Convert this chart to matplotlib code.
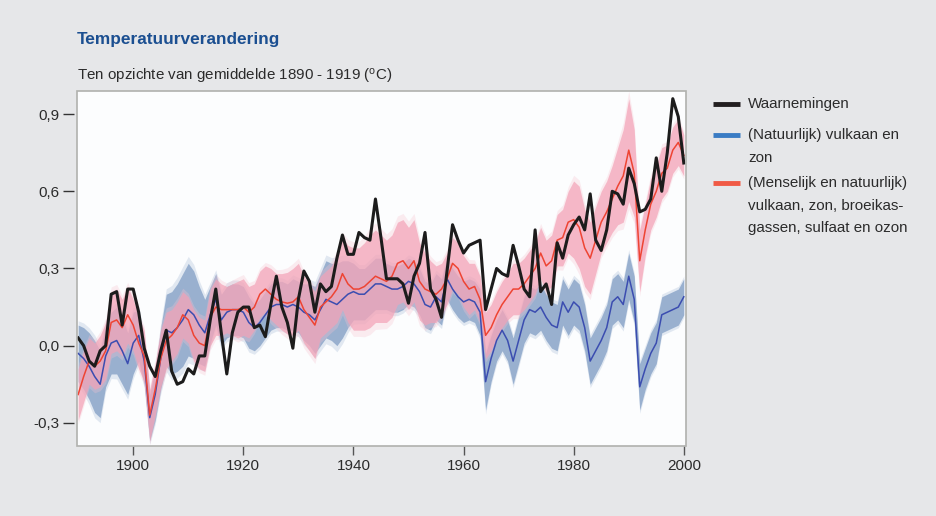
import matplotlib
matplotlib.use("Agg")
import matplotlib.pyplot as plt
import numpy as np
from matplotlib.lines import Line2D
from matplotlib.patches import Rectangle

plt.rcParams['font.family'] = ['Liberation Sans', 'DejaVu Sans']
plt.rcParams['mathtext.fontset'] = 'custom'
plt.rcParams['mathtext.rm'] = 'Liberation Sans'

jaren = np.arange(1890, 2001)

# waarnemingen (zwart)
waarnemingen = [
    0.03, 0.00, -0.06, -0.08, -0.02, 0.00, 0.20, 0.21, 0.08, 0.22,
    0.22, 0.13, -0.01, -0.08, -0.12, -0.02, 0.06, -0.10, -0.15, -0.14,
    -0.09, -0.11, -0.04, -0.04, 0.10, 0.22, 0.05, -0.11, 0.05, 0.13,
    0.15, 0.15, 0.07, 0.08, 0.035, 0.16, 0.27, 0.15, 0.09, -0.01,
    0.18, 0.29, 0.25, 0.13, 0.24, 0.21, 0.23, 0.34, 0.43, 0.355,
    0.355, 0.44, 0.42, 0.41, 0.57, 0.42, 0.26, 0.26, 0.26, 0.24,
    0.165, 0.27, 0.32, 0.44, 0.22, 0.18, 0.11, 0.29, 0.47, 0.41,
    0.36, 0.39, 0.40, 0.41, 0.14, 0.22, 0.30, 0.28, 0.27, 0.39,
    0.31, 0.22, 0.19, 0.45, 0.21, 0.24, 0.16, 0.40, 0.34, 0.43,
    0.47, 0.50, 0.45, 0.59, 0.41, 0.37, 0.45, 0.60, 0.59, 0.55,
    0.69, 0.63, 0.52, 0.53, 0.57, 0.73, 0.60, 0.75, 0.96, 0.89,
    0.71,
]

# model: menselijk + natuurlijk (rood)
mens_natuur = [
    -0.19, -0.12, -0.06, -0.08, -0.06, -0.02, 0.09, 0.10, 0.07, 0.12,
    0.08, 0.01, -0.04, -0.27, -0.17, -0.05, 0.02, 0.04, 0.07, 0.12,
    0.10, 0.04, 0.01, 0.00, 0.11, 0.15, 0.14, 0.14, 0.14, 0.14,
    0.15, 0.13, 0.15, 0.20, 0.22, 0.20, 0.18, 0.17, 0.165, 0.17,
    0.19, 0.14, 0.11, 0.08, 0.15, 0.17, 0.19, 0.22, 0.28, 0.24,
    0.22, 0.22, 0.23, 0.25, 0.27, 0.26, 0.25, 0.27, 0.32, 0.33,
    0.30, 0.33, 0.25, 0.22, 0.21, 0.20, 0.22, 0.26, 0.32, 0.30,
    0.25, 0.22, 0.23, 0.18, 0.04, 0.07, 0.12, 0.16, 0.19, 0.22,
    0.22, 0.24, 0.27, 0.30, 0.36, 0.31, 0.33, 0.41, 0.42, 0.48,
    0.49, 0.46, 0.38, 0.34, 0.41, 0.48, 0.52, 0.57, 0.62, 0.66,
    0.76, 0.67, 0.33, 0.45, 0.55, 0.60, 0.67, 0.69, 0.76, 0.79,
    0.74,
]
mens_natuur_spreiding = [
    0.10, 0.10, 0.09, 0.09, 0.10, 0.11, 0.12, 0.12, 0.11, 0.11,
    0.10, 0.10, 0.10, 0.10, 0.10, 0.11, 0.11, 0.10, 0.10, 0.09,
    0.09, 0.10, 0.10, 0.10, 0.11, 0.11, 0.10, 0.09, 0.10, 0.11,
    0.11, 0.10, 0.09, 0.09, 0.09, 0.10, 0.10, 0.11, 0.12, 0.13,
    0.13, 0.13, 0.13, 0.13, 0.12, 0.12, 0.12, 0.13, 0.14, 0.15,
    0.16, 0.16, 0.17, 0.18, 0.18, 0.17, 0.16, 0.16, 0.16, 0.16,
    0.16, 0.16, 0.15, 0.14, 0.12, 0.11, 0.10, 0.10, 0.10, 0.10,
    0.10, 0.10, 0.09, 0.09, 0.09, 0.09, 0.09, 0.09, 0.09, 0.10,
    0.10, 0.10, 0.10, 0.10, 0.10, 0.10, 0.10, 0.10, 0.11, 0.12,
    0.15, 0.16, 0.15, 0.14, 0.13, 0.12, 0.12, 0.13, 0.15, 0.18,
    0.20, 0.17, 0.12, 0.10, 0.10, 0.10, 0.10, 0.09, 0.09, 0.09,
    0.08,
]

# model: alleen natuurlijk (blauw)
natuur = [
    -0.03, -0.05, -0.08, -0.12, -0.15, -0.04, 0.01, 0.02, -0.02, -0.07,
    0.01, 0.04, -0.06, -0.28, -0.19, -0.05, 0.06, 0.05, 0.07, 0.10,
    0.14, 0.12, 0.08, 0.05, 0.12, 0.18, 0.10, 0.13, 0.14, 0.14,
    0.13, 0.09, 0.07, 0.09, 0.12, 0.15, 0.16, 0.16, 0.15, 0.16,
    0.15, 0.13, 0.12, 0.10, 0.14, 0.18, 0.17, 0.16, 0.18, 0.20,
    0.21, 0.20, 0.20, 0.22, 0.24, 0.24, 0.23, 0.22, 0.22, 0.23,
    0.25, 0.24, 0.21, 0.16, 0.15, 0.19, 0.17, 0.26, 0.22, 0.19,
    0.17, 0.18, 0.17, 0.13, -0.14, -0.05, 0.02, 0.06, 0.02, -0.06,
    0.02, 0.10, 0.14, 0.13, 0.15, 0.11, 0.08, 0.07, 0.17, 0.13,
    0.17, 0.15, 0.07, -0.06, -0.02, 0.02, 0.07, 0.17, 0.19, 0.16,
    0.27, 0.18, -0.16, -0.09, -0.03, 0.01, 0.12, 0.13, 0.14, 0.15,
    0.19,
]
natuur_spreiding = [
    0.11, 0.12, 0.13, 0.14, 0.13, 0.12, 0.12, 0.13, 0.13, 0.12,
    0.12, 0.10, 0.09, 0.09, 0.10, 0.12, 0.14, 0.16, 0.17, 0.18,
    0.18, 0.17, 0.15, 0.13, 0.11, 0.10, 0.10, 0.10, 0.10, 0.10,
    0.10, 0.10, 0.09, 0.09, 0.09, 0.09, 0.09, 0.09, 0.09, 0.10,
    0.10, 0.11, 0.12, 0.13, 0.14, 0.15, 0.15, 0.16, 0.15, 0.13,
    0.11, 0.10, 0.10, 0.10, 0.10, 0.10, 0.09, 0.09, 0.09, 0.09,
    0.09, 0.09, 0.09, 0.09, 0.09, 0.09, 0.09, 0.08, 0.08, 0.08,
    0.08, 0.08, 0.08, 0.09, 0.11, 0.09, 0.08, 0.08, 0.08, 0.09,
    0.09, 0.09, 0.09, 0.09, 0.09, 0.09, 0.09, 0.09, 0.09, 0.09,
    0.09, 0.09, 0.09, 0.09, 0.09, 0.09, 0.09, 0.09, 0.09, 0.09,
    0.09, 0.09, 0.09, 0.08, 0.08, 0.08, 0.07, 0.07, 0.07, 0.07,
    0.07,
]

y_ticks = [-0.3, 0.0, 0.3, 0.6, 0.9]
y_labels = ['-0,3', '0,0', '0,3', '0,6', '0,9']
x_ticks = [1900, 1920, 1940, 1960, 1980, 2000]

legenda_labels = [
    ['Waarnemingen'],
    ['(Natuurlijk) vulkaan en', 'zon'],
    ['(Menselijk en natuurlijk)', 'vulkaan, zon, broeikas-', 'gassen, sulfaat en ozon'],
]
legenda_kleuren = ['#231f20', '#3a7cc4', '#f05a45']

mn = np.array(mens_natuur)
mn_s = np.array(mens_natuur_spreiding)
nt = np.array(natuur)
nt_s = np.array(natuur_spreiding)

fig = plt.figure(figsize=(9.36, 5.16), dpi=100)
fig.patch.set_facecolor('#e6e7e9')
ax = fig.add_axes([0.0823, 0.1357, 0.6506, 0.688])
ax.set_facecolor('#fcfdfe')

# banden met zachte rand
ax.fill_between(jaren, nt - nt_s * 1.15, nt + nt_s * 1.15, color='#a3b8d5', alpha=0.3, lw=0, zorder=1)
ax.fill_between(jaren, nt - nt_s, nt + nt_s, color='#7d9bc3', alpha=0.72, lw=0, zorder=1)
ax.fill_between(jaren, mn - mn_s * 1.15, mn + mn_s * 1.15, color='#f7c2cf', alpha=0.3, lw=0, zorder=2)
ax.fill_between(jaren, mn - mn_s, mn + mn_s, color='#f3a2b6', alpha=0.7, lw=0, zorder=2)

ax.plot(jaren, nt, color='#3b4db0', lw=1.1, zorder=3)
ax.plot(jaren, mn, color='#ee4433', lw=1.1, zorder=4)
ax.plot(jaren, waarnemingen, color='#1c1c1c', lw=2.2, zorder=5)

ax.set_xlim(1889.8, 2000.4)
ax.set_ylim(-0.39, 0.99)

for s in ax.spines.values():
    s.set_visible(False)
ax.spines['left'].set_position(('outward', 2.5))
ax.add_patch(Rectangle((0, 0), 1, 1, transform=ax.transAxes, fill=False,
                       ec='#b0b1ae', lw=1.2, zorder=6, clip_on=False))

ax.set_yticks(y_ticks)
ax.set_yticklabels(y_labels)
ax.set_xticks(x_ticks)
ax.tick_params(axis='y', direction='out', length=8, width=1, pad=2,
               color='#333333', labelcolor='#2b2b2b', labelsize=11)
ax.tick_params(axis='x', direction='out', length=6.5, width=1, pad=3,
               color='#555555', labelcolor='#2b2b2b', labelsize=11)

fig.text(0.0823, 0.9225, 'Temperatuurverandering', fontsize=12.4, fontweight='bold',
         color='#1b4f91', va='center', ha='left')
fig.text(0.0823, 0.851, r'Ten opzichte van gemiddelde 1890 - 1919 ($\mathregular{^o}$C)',
         fontsize=10.9, color='#2b2b2b', va='center', ha='left')

# legenda
W, H = 936, 516
leg_y = [104, 135, 183]
for labels, kleur, y0 in zip(legenda_labels, legenda_kleuren, leg_y):
    fig.add_artist(Line2D([713 / W, 740 / W], [1 - y0 / H, 1 - y0 / H],
                          color=kleur, lw=3.5, solid_capstyle='butt'))
    for i, t in enumerate(labels):
        fig.text(748 / W, 1 - (y0 + i * 22.5) / H, t, fontsize=10.9,
                 color='#2b2b2b', va='center', ha='left')

fig.savefig('out.png', dpi=100, facecolor=fig.get_facecolor())
